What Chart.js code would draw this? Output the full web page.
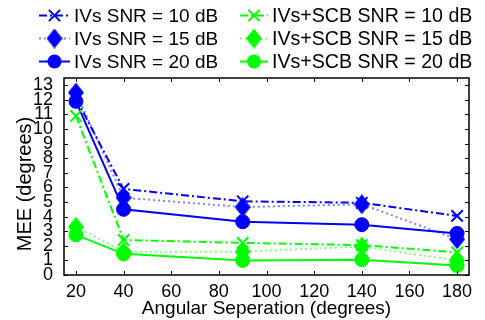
<!DOCTYPE html>
<html><head><meta charset="utf-8">
<script src="https://cdn.jsdelivr.net/npm/chart.js@4"></script>
<style>html,body{margin:0;padding:0;background:#fff}#wrap{width:485px;height:320px;position:relative}</style>
</head><body><div id="wrap"><canvas id="c" width="485" height="320"></canvas></div>
<script>
const angles = [20, 40, 90, 140, 180];
const xTickValues = [20, 40, 60, 80, 100, 120, 140, 160, 180];
const yTickValues = [0, 1, 2, 3, 4, 5, 6, 7, 8, 9, 10, 11, 12, 13];
const seriesLabels = ['IVs SNR = 10 dB', 'IVs SNR = 15 dB', 'IVs SNR = 20 dB',
                      'IVs+SCB SNR = 10 dB', 'IVs+SCB SNR = 15 dB', 'IVs+SCB SNR = 20 dB'];
const ivs10 = [12.1, 5.9, 5.05, 4.95, 4.05];
const ivs15 = [12.5, 5.3, 4.65, 4.85, 2.45];
const ivs20 = [11.9, 4.5, 3.65, 3.45, 2.85];
const scb10 = [10.9, 2.4, 2.2, 2.05, 1.55];
const scb15 = [3.3, 1.6, 1.6, 1.95, 1.0];
const scb20 = [2.75, 1.45, 1.0, 1.05, 0.65];
const xTitle = 'Angular Seperation (degrees)';
const yTitle = 'MEE (degrees)';

const FONT = '"Liberation Sans", Arial, Helvetica, sans-serif';
const BLUE = '#0000ff', GREEN = '#00ff00';
const BLUE_LIGHT = 'rgba(0,0,255,0.5)', GREEN_LIGHT = 'rgba(0,255,0,0.5)';

function diamondImg(color) {
  const c = document.createElement('canvas');
  c.width = 16; c.height = 20;
  const g = c.getContext('2d');
  g.fillStyle = color;
  g.beginPath();
  g.moveTo(8, 0); g.lineTo(16, 10); g.lineTo(8, 20); g.lineTo(0, 10);
  g.closePath(); g.fill();
  return c;
}

function mk(i, values, color, light, kind) {
  const ds = {
    label: seriesLabels[i],
    data: angles.map((a, k) => ({x: a, y: values[k]})),
    borderColor: color,
    backgroundColor: color,
    pointBackgroundColor: color,
    pointBorderColor: color,
    borderWidth: 2,
    tension: 0,
    fill: false,
    order: 5 - i,
    kind: kind
  };
  if (kind === 'x') {
    ds.borderDash = [8, 3, 2, 3];
    ds.pointStyle = 'crossRot';
    ds.pointRadius = 8;
    ds.pointBorderWidth = 2;
  } else if (kind === 'd') {
    ds.borderColor = light;
    ds.borderDash = [2, 3];
    ds.pointStyle = diamondImg(color);
    ds.pointRadius = 9;
  } else {
    ds.pointStyle = 'circle';
    ds.pointRadius = 7;
    ds.pointBorderWidth = 1;
  }
  ds.pointHoverRadius = ds.pointRadius;
  return ds;
}

const datasets = [
  mk(0, ivs10, BLUE, BLUE_LIGHT, 'x'),
  mk(1, ivs15, BLUE, BLUE_LIGHT, 'd'),
  mk(2, ivs20, BLUE, BLUE_LIGHT, 'o'),
  mk(3, scb10, GREEN, GREEN_LIGHT, 'x'),
  mk(4, scb15, GREEN, GREEN_LIGHT, 'd'),
  mk(5, scb20, GREEN, GREEN_LIGHT, 'o')
];

const frame = {
  id: 'frame',
  afterDraw(chart) {
    const {ctx, chartArea: a, scales} = chart;
    ctx.save();
    // box
    ctx.strokeStyle = '#000';
    ctx.lineWidth = 1.5;
    ctx.strokeRect(a.left, a.top, a.right - a.left, a.bottom - a.top);
    ctx.lineWidth = 1;
    ctx.beginPath();
    xTickValues.forEach(v => {
      const x = Math.round(scales.x.getPixelForValue(v)) + 0.5;
      ctx.moveTo(x, a.bottom); ctx.lineTo(x, a.bottom - 4);
      ctx.moveTo(x, a.top); ctx.lineTo(x, a.top + 4);
    });
    yTickValues.forEach(v => {
      const y = Math.round(scales.y.getPixelForValue(v)) + 0.5;
      ctx.moveTo(a.left, y); ctx.lineTo(a.left + 4, y);
      ctx.moveTo(a.right, y); ctx.lineTo(a.right - 4, y);
    });
    ctx.stroke();
    // axis titles
    ctx.fillStyle = '#000';
    ctx.textAlign = 'center';
    ctx.textBaseline = 'alphabetic';
    ctx.font = '19px ' + FONT;
    ctx.fillText(xTitle, (a.left + a.right) / 2, 313.5);
    ctx.save();
    ctx.translate(25, 184);
    ctx.rotate(-Math.PI / 2);
    ctx.textBaseline = 'middle';
    ctx.font = '20px ' + FONT;
    ctx.fillText(yTitle, 0, 0);
    ctx.restore();
    // legend
    const cols = [{x0: 39, x1: 70, tx: 74, fs: 19}, {x0: 240, x1: 268, tx: 272, fs: 19.6}];
    const rows = [15.5, 38.5, 61.5];
    chart.data.datasets.forEach((ds, i) => {
      const c = cols[i < 3 ? 0 : 1];
      const y = rows[i % 3];
      const mx = (c.x0 + c.x1) / 2;
      ctx.save();
      ctx.strokeStyle = ds.borderColor;
      ctx.lineWidth = ds.borderWidth;
      ctx.setLineDash(ds.borderDash || []);
      ctx.beginPath(); ctx.moveTo(c.x0, y); ctx.lineTo(c.x1, y); ctx.stroke();
      ctx.setLineDash([]);
      if (ds.kind === 'x') {
        const h = ds.pointRadius * Math.SQRT1_2;
        ctx.strokeStyle = ds.pointBorderColor; ctx.lineWidth = 2;
        ctx.beginPath();
        ctx.moveTo(mx - h, y - h); ctx.lineTo(mx + h, y + h);
        ctx.moveTo(mx - h, y + h); ctx.lineTo(mx + h, y - h);
        ctx.stroke();
      } else if (ds.kind === 'd') {
        ctx.drawImage(ds.pointStyle, mx - 8, y - 10);
      } else {
        ctx.fillStyle = ds.pointBackgroundColor;
        ctx.beginPath(); ctx.arc(mx, y, ds.pointRadius, 0, Math.PI * 2); ctx.fill();
      }
      ctx.fillStyle = '#000';
      ctx.font = c.fs + 'px ' + FONT;
      ctx.textAlign = 'left';
      ctx.textBaseline = 'alphabetic';
      ctx.fillText(ds.label, c.tx, y + 6.8);
      ctx.restore();
    });
    ctx.restore();
  }
};

new Chart(document.getElementById('c'), {
  type: 'line',
  data: {datasets},
  options: {
    responsive: false,
    animation: false,
    events: [],
    layout: {padding: {top: 78, right: 16, left: 0, bottom: 0}},
    plugins: {legend: {display: false}, tooltip: {enabled: false}, title: {display: false}},
    scales: {
      x: {
        type: 'linear', min: 15, max: 185,
        afterBuildTicks: s => { s.ticks = xTickValues.map(v => ({value: v})); },
        afterFit: s => { s.height = 45; },
        grid: {display: false}, border: {display: false},
        ticks: {color: '#000', font: {family: FONT, size: 18}, padding: -2, maxRotation: 0, autoSkip: false}
      },
      y: {
        type: 'linear', min: 0, max: 13.5,
        afterBuildTicks: s => { s.ticks = yTickValues.map(v => ({value: v})); },
        afterFit: s => { s.width = 64; },
        grid: {display: false}, border: {display: false},
        ticks: {color: '#000', font: {family: FONT, size: 18}, padding: 3, autoSkip: false}
      }
    }
  },
  plugins: [frame]
});
</script>
</body></html>
